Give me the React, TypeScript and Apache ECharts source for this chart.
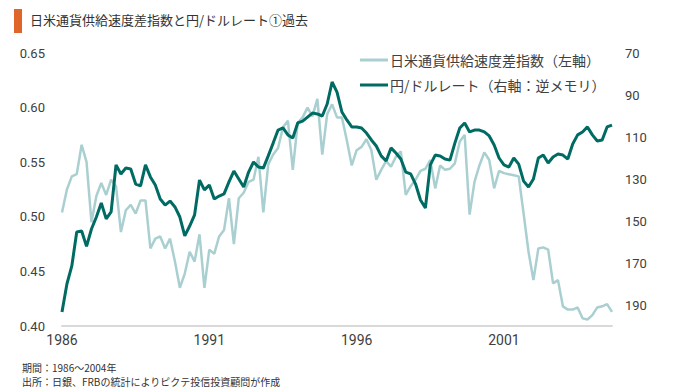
import React, { useEffect, useRef } from "react";
import * as echarts from "echarts";

// bimonthly observations, Jan 1986 .. Sep 2004
const START_YEAR = 1986;
const tickYears = ["1986", "1991", "1996", "2001"];

// 日米通貨供給速度差指数 (left axis)
const velocityIndex = [
  0.504, 0.525, 0.537, 0.539, 0.566, 0.55, 0.495, 0.519, 0.531, 0.52,
  0.534, 0.528, 0.486, 0.506, 0.511, 0.503, 0.515, 0.515, 0.471, 0.48,
  0.482, 0.471, 0.48, 0.459, 0.435, 0.448, 0.468, 0.459, 0.484, 0.435,
  0.47, 0.466, 0.482, 0.488, 0.517, 0.475, 0.517, 0.522, 0.532, 0.534,
  0.555, 0.504, 0.548, 0.557, 0.563, 0.582, 0.588, 0.543, 0.586, 0.591,
  0.6, 0.592, 0.608, 0.557, 0.594, 0.603, 0.591, 0.591, 0.57, 0.547,
  0.561, 0.564, 0.571, 0.561, 0.534, 0.543, 0.551, 0.546, 0.555, 0.56,
  0.52, 0.528, 0.534, 0.542, 0.544, 0.552, 0.526, 0.547, 0.543, 0.544,
  0.549, 0.569, 0.575, 0.502, 0.532, 0.547, 0.559, 0.552, 0.526, 0.542,
  0.54, 0.539, 0.538, 0.537, 0.503, 0.468, 0.442, 0.471, 0.472, 0.47,
  0.439, 0.442, 0.418, 0.415, 0.415, 0.417, 0.407, 0.406, 0.41, 0.417,
  0.418, 0.42, 0.413,
];

// 円/ドルレート (right axis, inverted)
const yenPerDollar = [
  193.3, 180, 171.4, 155.2, 154.8, 162.1, 153.8, 148.1, 141.4, 149,
  145.7, 123.3, 127.6, 124.8, 125.2, 132.4, 133.3, 123.3, 129, 132.9,
  139.5, 142.4, 140.5, 143.3, 148.1, 157.1, 152.4, 147.1, 130.5, 135.2,
  132.9, 139.5, 138.1, 137.1, 131.4, 126.2, 130, 133.8, 126.7, 121.9,
  124.3, 124.8, 119, 112.9, 106.7, 105.7, 109, 110.5, 103.3, 102.4,
  100.5, 98.6, 99, 100, 94.3, 83.8, 88.6, 98.1, 101.9, 105.2,
  105.2, 105.7, 108.1, 111.4, 114.3, 119, 121.4, 115.2, 117.6, 120.5,
  126.7, 127.6, 132.4, 140, 143.8, 123.3, 118.6, 119, 120.5, 121,
  112.9, 105.7, 103.3, 107.6, 106.7, 106.7, 107.6, 109.5, 113.8, 120,
  123.3, 124.3, 120, 122.9, 131, 133.8, 130, 120, 118.6, 122.4,
  119.5, 118.1, 118.6, 120.5, 113.3, 109, 107.6, 105.2, 109, 111.9,
  111.4, 105.2, 104.3,
];

const categories = velocityIndex.map((_, i) => {
  const m = i * 2;
  const y = START_YEAR + Math.floor(m / 12);
  const mo = (m % 12) + 1;
  return `${y}/${String(mo).padStart(2, "0")}`;
});

const LIGHT = "#aacfd1";
const DARK = "#006b63";
const TEXT = "#404040";
const NUM_FONT = "Roboto, 'Noto Sans CJK JP', sans-serif";
const JP_FONT = "'Noto Sans CJK JP', sans-serif";

export default function App() {
  const ref = useRef<HTMLDivElement>(null);
  useEffect(() => {
    if (!ref.current) return;
    const chart = echarts.init(ref.current, null, { renderer: "svg" });
    const isTick = (v: string) => v.endsWith("/01") && tickYears.includes(v.slice(0, 4));
    chart.setOption({
      animation: false,
      backgroundColor: "#ffffff",
      grid: { left: 62, right: 68, top: 53, bottom: 64, containLabel: false },
      legend: {
        orient: "vertical",
        left: 360,
        top: 53,
        padding: 0,
        itemGap: 11,
        itemWidth: 28,
        itemHeight: 3,
        icon: "rect",
        textStyle: { color: TEXT, fontSize: 14, fontFamily: JP_FONT, padding: [0, 0, 0, -3] },
        data: ["日米通貨供給速度差指数（左軸）", "円/ドルレート（右軸：逆メモリ）"],
      },
      xAxis: {
        type: "category",
        data: categories,
        boundaryGap: false,
        axisLine: { show: true, lineStyle: { color: "#d9d9d9", width: 2 } },
        axisTick: { show: false },
        splitLine: { show: false },
        axisLabel: {
          interval: (_i: number, v: string) => isTick(v),
          formatter: (v: string) => (isTick(v) ? v.slice(0, 4) : ""),
          color: TEXT,
          fontSize: 14,
          fontFamily: NUM_FONT,
          margin: 7,
        },
      },
      yAxis: [
        {
          type: "value",
          min: 0.4,
          max: 0.65,
          interval: 0.05,
          axisLine: { show: false },
          axisTick: { show: false },
          splitLine: { show: false },
          axisLabel: {
            formatter: (v: number) => v.toFixed(2),
            color: TEXT,
            fontSize: 13,
            fontFamily: NUM_FONT,
            margin: 17,
          },
        },
        {
          type: "value",
          inverse: true,
          min: 70,
          max: 200,
          interval: 20,
          axisLine: { show: false },
          axisTick: { show: false },
          splitLine: { show: false },
          axisLabel: {
            showMaxLabel: false,
            formatter: (v: number) => (v > 190 ? "" : String(v)),
            color: TEXT,
            fontSize: 13,
            fontFamily: NUM_FONT,
            margin: 13,
          },
        },
      ],
      series: [
        {
          name: "日米通貨供給速度差指数（左軸）",
          type: "line",
          yAxisIndex: 0,
          data: velocityIndex,
          showSymbol: false,
          symbol: "none",
          lineStyle: { color: LIGHT, width: 2.5 },
          itemStyle: { color: LIGHT },
        },
        {
          name: "円/ドルレート（右軸：逆メモリ）",
          type: "line",
          yAxisIndex: 1,
          data: yenPerDollar,
          showSymbol: false,
          symbol: "none",
          lineStyle: { color: DARK, width: 3 },
          itemStyle: { color: DARK },
        },
      ],
      graphic: [
        { type: "rect", left: 14, top: 9, shape: { width: 8, height: 24 }, style: { fill: "#e0652b" } },
        {
          type: "text",
          left: 30,
          top: 13,
          style: {
            text: "日米通貨供給速度差指数と円/ドルレート①過去",
            fill: "#333333",
            fontSize: 13,
            fontFamily: JP_FONT,
          },
        },
        {
          type: "text",
          left: 22,
          top: 361,
          style: { text: "期間：1986～2004年", fill: "#333333", fontSize: 10, lineHeight: 12, fontFamily: JP_FONT },
        },
        {
          type: "text",
          left: 22,
          top: 375,
          style: {
            text: "出所：日銀、FRBの統計によりピクテ投信投資顧問が作成",
            fill: "#333333",
            fontSize: 10,
            lineHeight: 12,
            fontFamily: JP_FONT,
          },
        },
      ],
    });
    return () => chart.dispose();
  }, []);
  return (
    <div
      ref={ref}
      style={{ position: "fixed", left: 0, top: 0, width: 680, height: 390 }}
    />
  );
}
